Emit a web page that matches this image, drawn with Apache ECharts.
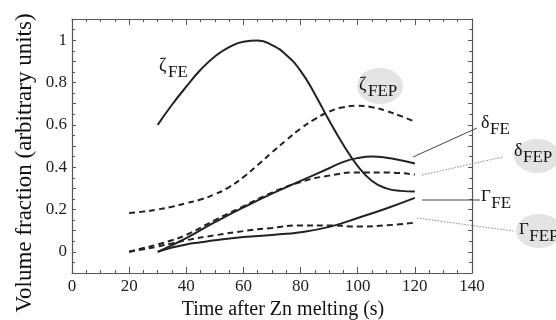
<!DOCTYPE html>
<html>
<head>
<meta charset="utf-8">
<script src="https://cdn.jsdelivr.net/npm/echarts@6/dist/echarts.min.js"></script>
<style>html,body{margin:0;padding:0;background:#fff}#c{width:556px;height:320px}</style>
</head>
<body>
<div id="c"></div>
<script>
// ---- data (x in s, y in arbitrary units) ----
var zetaFE_x = [30,35,40,45,50,55,60,65,70,75,80,85,90,95,100,105,110,115,120];
var zetaFE_y = [0.6,0.695,0.78,0.86,0.923,0.967,0.993,0.998,0.977,0.93,0.855,0.745,0.62,0.505,0.405,0.335,0.3,0.288,0.285];
var zetaFEP_x = [20,25,30,35,40,45,50,55,60,65,70,75,80,85,90,95,100,105,110,115,120];
var zetaFEP_y = [0.183,0.19,0.2,0.213,0.23,0.247,0.272,0.306,0.353,0.41,0.47,0.528,0.582,0.627,0.662,0.683,0.69,0.683,0.666,0.642,0.615];
var deltaFE_x = [30,40,50,60,70,80,90,95,100,105,110,115,120];
var deltaFE_y = [0,0.065,0.14,0.21,0.275,0.335,0.395,0.425,0.443,0.45,0.445,0.433,0.417];
var deltaFEP_x = [20,25,30,35,40,50,60,70,80,90,100,110,120];
var deltaFEP_y = [0,0.018,0.035,0.055,0.08,0.15,0.215,0.28,0.33,0.36,0.375,0.375,0.365];
var gammaFE_x = [30,35,40,45,50,60,70,80,90,100,110,120];
var gammaFE_y = [0,0.02,0.035,0.045,0.055,0.07,0.08,0.093,0.118,0.16,0.205,0.255];
var gammaFEP_x = [20,25,30,35,40,50,60,70,80,90,100,110,120];
var gammaFEP_y = [0,0.012,0.025,0.04,0.055,0.078,0.098,0.113,0.125,0.125,0.12,0.125,0.138];
var xTicks = [0,20,40,60,80,100,120,140];
var yTicks = [0,0.2,0.4,0.6,0.8,1];

function pairs(xs, ys){ return xs.map(function(x,i){ return [x, ys[i]]; }); }

var SERIF = "'Liberation Serif','DejaVu Serif',serif";
var axisColor = '#555';

function xAx(pos, showLabel){
  return {
    type:'value', min:0, max:140, interval:20, position:pos,
    axisLine:{show:true, onZero:false, lineStyle:{color:axisColor, width:1.2}},
    axisTick:{show:true, inside:true, length:6, lineStyle:{color:axisColor}},
    minorTick:{show:true, splitNumber:4, length:3, lineStyle:{color:axisColor}},
    splitLine:{show:false},
    axisLabel:{show:showLabel, fontFamily:SERIF, fontSize:17, color:'#222', margin:5,
      formatter:function(v){ return xTicks.indexOf(Math.round(v))>=0 ? String(Math.round(v)) : ''; }}
  };
}
function yAx(pos, showLabel){
  return {
    type:'value', min:-0.1, max:1.1, interval:0.1, position:pos,
    axisLine:{show:true, onZero:false, lineStyle:{color:axisColor, width:1.2}},
    axisTick:{show:true, inside:true, length:4, lineStyle:{color:axisColor}},
    minorTick:{show:true, splitNumber:2, length:3, lineStyle:{color:axisColor}},
    splitLine:{show:false},
    axisLabel:{show:showLabel, fontFamily:SERIF, fontSize:17, color:'#222', margin:5,
      formatter:function(v){
        var r = Math.round(v*10)/10;
        for (var i=0;i<yTicks.length;i++){ if (Math.abs(yTicks[i]-r)<1e-6) return String(yTicks[i]); }
        return '';
      }}
  };
}

function lineSeries(name, xs, ys, dashed){
  return {
    name:name, type:'line', xAxisIndex:0, yAxisIndex:0,
    data:pairs(xs, ys), smooth:0.5, showSymbol:false, symbol:'none',
    lineStyle:{color:'#222', width:2, type: dashed ? [6,4] : 'solid'},
    z:5
  };
}

function sub(x, y, main, subTxt, mainSize, subSize){
  return [
    {type:'text', x:x, y:y, z:20, style:{text:main, font:mainSize+'px '+SERIF, fill:'#111', textVerticalAlign:'middle'}},
    {type:'text', x:x + (main==='\u0393' ? mainSize*0.6 : mainSize*0.5), y:y+7, z:20, style:{text:subTxt, font:subSize+'px '+SERIF, fill:'#111', textVerticalAlign:'middle'}}
  ];
}
function blob(cx, cy, rx, ry){
  return {type:'circle', x:cx, y:cy, scaleX:rx/ry, scaleY:1, z:2, shape:{cx:0, cy:0, r:ry}, style:{fill:'#e3e3e3'}};
}
function lead(x1,y1,x2,y2,dotted){
  return {type:'line', z:3, shape:{x1:x1,y1:y1,x2:x2,y2:y2},
    style:{stroke: dotted ? '#888' : '#444', lineWidth: 1, lineDash: dotted ? [1.5,1.5] : null}};
}

var graphics = [];
graphics.push(blob(380, 86, 23, 18));
graphics.push(blob(537, 156, 23, 17));
graphics.push(blob(539, 231, 23, 17));
graphics.push(lead(413,157,477,128,false));
graphics.push(lead(422,175,503,157,true));
graphics.push(lead(422,200,480,200,false));
graphics.push(lead(417,218,513,231,true));
graphics = graphics.concat(sub(159, 66, '\u03b6', 'FE', 18, 17));
graphics = graphics.concat(sub(359, 85, '\u03b6', 'FEP', 18, 17));
graphics = graphics.concat(sub(481, 123, '\u03b4', 'FE', 18, 17));
graphics = graphics.concat(sub(514, 151, '\u03b4', 'FEP', 18, 17));
graphics = graphics.concat(sub(481, 197, '\u0393', 'FE', 17, 17));
graphics = graphics.concat(sub(519, 230, '\u0393', 'FEP', 17, 17));
graphics.push({type:'text', x:283, y:310, z:20, style:{text:'Time after Zn melting (s)', font:'20px '+SERIF, fill:'#111', textAlign:'center', textVerticalAlign:'middle'}});
graphics.push({type:'text', x:25, y:163, rotation:Math.PI/2, z:20, style:{text:'Volume fraction (arbitrary units)', font:'23px '+SERIF, fill:'#111', textAlign:'center', textVerticalAlign:'middle'}});

var chart = echarts.init(document.getElementById('c'), null, {renderer:'canvas'});
chart.setOption({
  backgroundColor:'#fff',
  animation:false,
  grid:{left:72, right:84, top:19, bottom:47, containLabel:false},
  xAxis:[xAx('bottom', true), xAx('top', false)],
  yAxis:[yAx('left', true), yAx('right', false)],
  series:[
    lineSeries('zetaFE', zetaFE_x, zetaFE_y, false),
    lineSeries('zetaFEP', zetaFEP_x, zetaFEP_y, true),
    lineSeries('deltaFE', deltaFE_x, deltaFE_y, false),
    lineSeries('deltaFEP', deltaFEP_x, deltaFEP_y, true),
    lineSeries('gammaFE', gammaFE_x, gammaFE_y, false),
    lineSeries('gammaFEP', gammaFEP_x, gammaFEP_y, true)
  ],
  graphic:graphics
});
</script>
</body>
</html>
